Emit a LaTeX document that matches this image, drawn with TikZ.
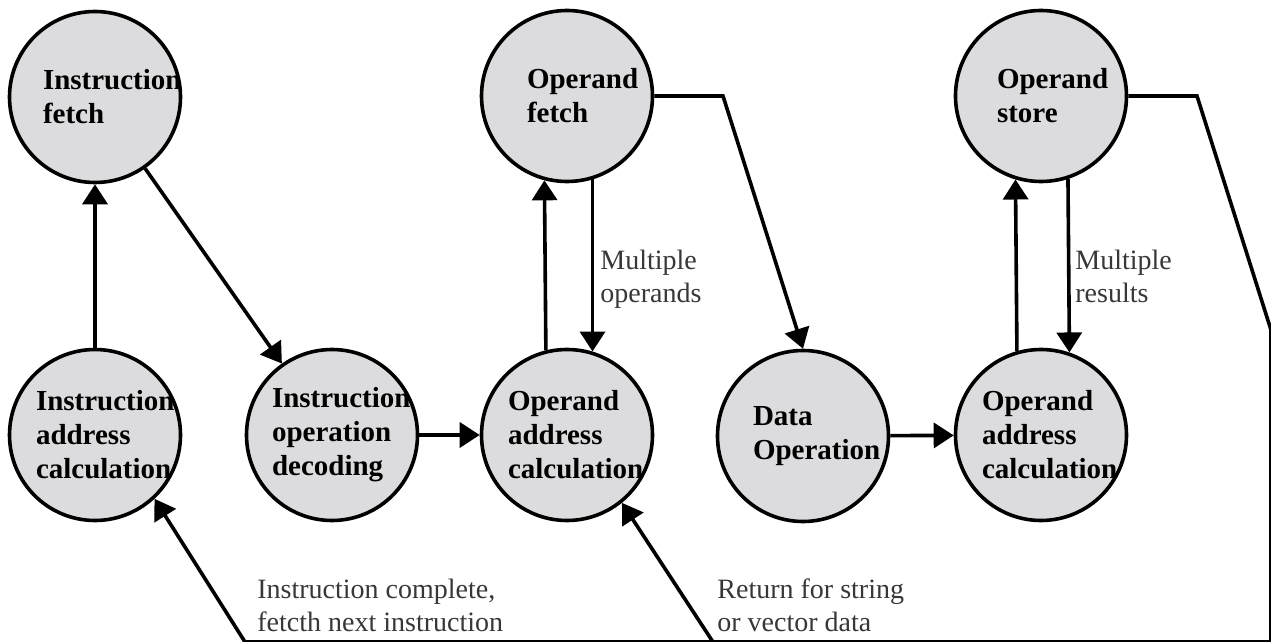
\documentclass[tikz,border=0pt]{standalone}
\usepackage{fontspec}
\setmainfont{Liberation Serif}
\usetikzlibrary{arrows.meta}
\hyphenpenalty=10000 \exhyphenpenalty=10000 \hbadness=10000 \hfuzz=\maxdimen
\definecolor{cfill}{RGB}{220,220,222}
\definecolor{lblgray}{RGB}{55,55,55}
\begin{document}
\begin{tikzpicture}[x=0.5pt,y=-0.5pt,
  stage/.style={circle, draw=black, line width=1.8pt, fill=cfill, minimum size=85.5pt,
    inner sep=0pt, font=\bfseries\fontsize{14.5}{17}\selectfont, align=left, text=black},
  flow/.style={line width=1.8pt, -{Triangle[length=10pt,width=12.5pt]}},
  wire/.style={line width=1.8pt},
  note/.style={font=\fontsize{14}{16.5}\selectfont, align=left, inner sep=0pt, anchor=west, text=lblgray}]
\useasboundingbox (0,0) rectangle (1271,642);
\clip (0,0) rectangle (1271,642);
% stages
\node[stage, text width=52pt] (if) at (95,97) {Instruction\\fetch};
\node[stage, text width=40pt] (of) at (567,96) {Operand\\fetch};
\node[stage, text width=44pt] (os) at (1041,96) {Operand\\store};
\node[stage, text width=59pt] (iac) at (95,435) {Instruction\\address\\calculation};
\node[stage, text width=60pt] (iod) at (332,435) {Instruction\\operation\\decoding};
\node[stage, text width=59pt] (oac1) at (567,435) {Operand\\address\\calculation};
\node[stage, text width=50pt] (dop) at (803,436) {Data\\Operation};
\node[stage, text width=59pt] (oac2) at (1041,435) {Operand\\address\\calculation};
% helper points
\coordinate (of1) at (723,96);
\coordinate (os1) at (1197,96);
\coordinate (os2) at (1271,330);
\coordinate (os3) at (1271,642);
\coordinate (ret1) at (245,642);
\coordinate (ret2) at (713,642);
% connectors
\draw[flow] (iac) -- (if);
\draw[flow] (if) -- (iod);
\draw[flow] (iod) -- (oac1);
\draw[flow] (oac1.104.2) -- (of.255.8);
\draw[flow] (of.287) -- (oac1.73);
\draw[flow] (of.east) -- (of1) -- (dop.north);
\draw[flow] (dop) -- (oac2);
\draw[flow] (oac2.106.3) -- (os.253.7);
\draw[flow] (os.288.4) -- (oac2.71.6);
\draw[wire] (os.east) -- (os1) -- (os2) -- (os3) -- (ret1);
\draw[flow] (ret1) -- (iac.-47);
\draw[flow] (ret2) -- (oac1.-51);
% labels
\node[note] (l1) at (600,279.5) {Multiple\\operands};
\node[note] (l2) at (1075,276.5) {Multiple\\results};
\node[note] (l3) at (257,605) {Instruction complete,\\fetcth next instruction};
\node[note] (l4) at (717,605) {Return for string\\or vector data};
\end{tikzpicture}
\end{document}
